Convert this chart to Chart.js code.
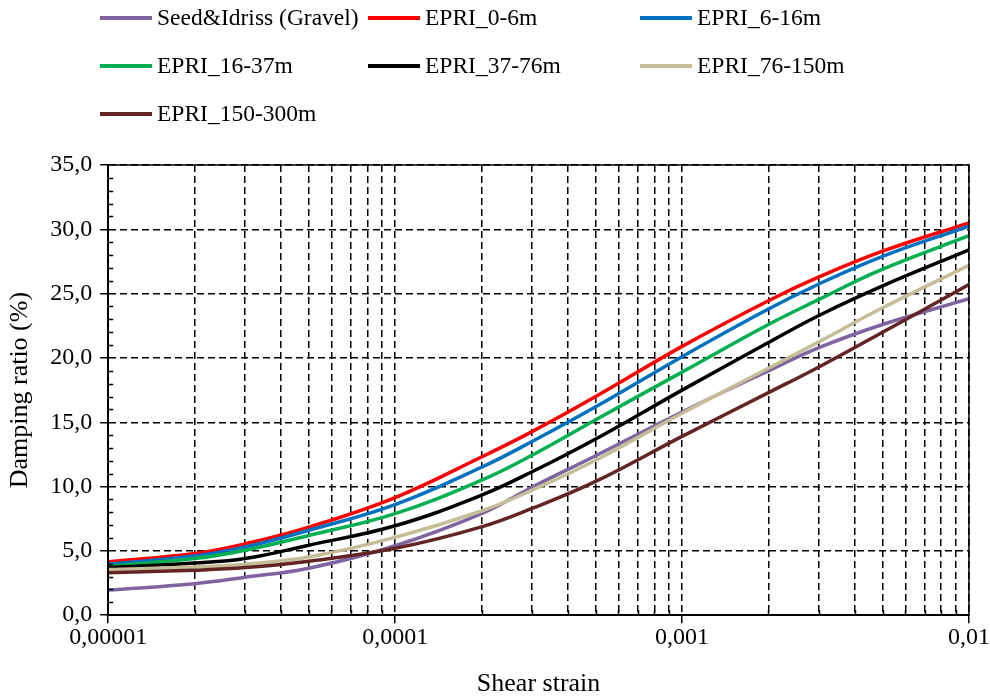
<!DOCTYPE html>
<html>
<head>
<meta charset="utf-8">
<script src="https://cdn.jsdelivr.net/npm/chart.js@4.4.0/dist/chart.umd.min.js"></script>
<style>
  html, body { margin: 0; padding: 0; background: #fff; }
  #wrap { width: 990px; height: 697px; }
</style>
</head>
<body>
<div id="wrap"><canvas id="damping-chart"></canvas></div>
<script>
// Shear strain (log axis) and damping ratio (%) per curve
const strain = [1e-5, 2e-5, 3e-5, 5e-5, 1e-4, 2e-4, 3e-4, 5e-4, 1e-3, 2e-3, 3e-3, 5e-3, 1e-2];

const seedIdriss  = [1.95, 2.45, 2.95, 3.65, 5.4, 7.9, 9.95, 12.4, 15.8, 19.0, 20.8, 22.6, 24.6];
const epri0_6     = [4.15, 4.8, 5.55, 6.85, 9.15, 12.3, 14.27, 17.0, 20.9, 24.45, 26.3, 28.3, 30.5];
const epri6_16    = [3.97, 4.6, 5.3, 6.6, 8.6, 11.5, 13.5, 16.2, 20.1, 23.8, 25.75, 27.9, 30.25];
const epri16_37   = [3.8, 4.4, 5.05, 6.2, 7.9, 10.5, 12.44, 15.2, 18.9, 22.6, 24.55, 26.9, 29.5];
const epri37_76   = [3.7, 4.05, 4.4, 5.44, 6.95, 9.33, 11.15, 13.7, 17.5, 21.2, 23.3, 25.6, 28.4];
const epri76_150  = [3.55, 3.75, 3.97, 4.53, 6.05, 8.1, 9.72, 12.05, 15.7, 19.2, 21.26, 23.9, 27.2];
const epri150_300 = [3.3, 3.5, 3.7, 4.2, 5.2, 6.87, 8.3, 10.4, 13.9, 17.3, 19.3, 22.0, 25.7];

const seriesNames  = ['Seed&Idriss (Gravel)', 'EPRI_0-6m', 'EPRI_6-16m', 'EPRI_16-37m', 'EPRI_37-76m', 'EPRI_76-150m', 'EPRI_150-300m'];
const seriesValues = [seedIdriss, epri0_6, epri6_16, epri16_37, epri37_76, epri76_150, epri150_300];
const seriesColors = ['#8064A2', '#FF0000', '#0070C0', '#00B050', '#000000', '#C4BD97', '#632523'];

const decades      = [1e-5, 1e-4, 1e-3, 1e-2];
const decadeLabels = ['0,00001', '0,0001', '0,001', '0,01'];
const yMin = 0, yMax = 35, yStep = 5;

const FONT = '"Liberation Serif", "Times New Roman", serif';

function isDecade(v) {
  const l = Math.log10(v);
  return Math.abs(l - Math.round(l)) < 1e-6;
}

// legend laid out in three columns above the plot
const gridLegend = {
  id: 'gridLegend',
  afterDraw(chart) {
    const ctx = chart.ctx;
    const colX = [100, 368, 640];
    const rowY = [18, 66, 114];
    ctx.save();
    ctx.font = '23.5px ' + FONT;
    ctx.textBaseline = 'middle';
    chart.data.datasets.forEach((ds, i) => {
      const x = colX[i % 3];
      const y = rowY[Math.floor(i / 3)];
      ctx.strokeStyle = ds.borderColor;
      ctx.lineWidth = 4;
      ctx.beginPath();
      ctx.moveTo(x, y);
      ctx.lineTo(x + 52, y);
      ctx.stroke();
      ctx.fillStyle = '#000';
      ctx.fillText(ds.label, x + 57, y + 1);
    });
    ctx.restore();
  }
};

// box around the plot and the small inside ticks
const plotFrame = {
  id: 'plotFrame',
  afterDraw(chart) {
    const { ctx, chartArea: a, scales } = chart;
    ctx.save();
    ctx.strokeStyle = '#000';
    ctx.lineWidth = 1.5;
    ctx.strokeRect(a.left, a.top, a.right - a.left, a.bottom - a.top);
    ctx.beginPath();
    for (let v = yMin + 1; v < yMax; v++) {
      if (v % yStep === 0) continue;
      const py = Math.round(scales.y.getPixelForValue(v)) + 0.5;
      ctx.moveTo(a.left, py);
      ctx.lineTo(a.left + 5, py);
    }
    scales.x.ticks.forEach(t => {
      if (isDecade(t.value)) return;
      const px = Math.round(scales.x.getPixelForValue(t.value)) + 0.5;
      ctx.moveTo(px, a.bottom);
      ctx.lineTo(px, a.bottom - 5);
    });
    ctx.stroke();
    ctx.restore();
  }
};

new Chart(document.getElementById('damping-chart'), {
  type: 'line',
  data: {
    datasets: seriesNames.map((name, i) => ({
      label: name,
      data: strain.map((x, j) => ({ x: x, y: seriesValues[i][j] })),
      borderColor: seriesColors[i],
      backgroundColor: seriesColors[i],
      borderWidth: 3.5,
      pointRadius: 0,
      fill: false,
      tension: 0.4,
      order: seriesNames.length - i
    }))
  },
  options: {
    responsive: true,
    maintainAspectRatio: false,
    animation: false,
    layout: { padding: { top: 165, right: 18, left: 5, bottom: 0 } },
    plugins: {
      legend: { display: false },
      tooltip: { enabled: false }
    },
    scales: {
      x: {
        type: 'logarithmic',
        min: decades[0],
        max: decades[decades.length - 1],
        afterBuildTicks(scale) {
          const ticks = [];
          for (let d = 0; d < decades.length - 1; d++) {
            for (let m = 1; m <= 9; m++) ticks.push({ value: m * decades[d] });
          }
          ticks.push({ value: decades[decades.length - 1] });
          scale.ticks = ticks;
        },
        ticks: {
          autoSkip: false,
          maxRotation: 0,
          padding: 0,
          color: '#000',
          font: { family: FONT, size: 24 },
          callback(v) {
            if (!isDecade(v)) return '';
            const k = decades.findIndex(d => Math.abs(Math.log10(d) - Math.log10(v)) < 1e-6);
            return decadeLabels[k];
          }
        },
        grid: {
          color: '#000',
          lineWidth: 1.5,
          tickLength: 8,
          tickWidth: 1.5,
          tickColor: ctx => (ctx.tick && isDecade(ctx.tick.value)) ? '#000' : 'rgba(0,0,0,0)'
        },
        border: { display: true, color: '#000', width: 2, dash: [7, 4] },
        title: {
          display: true,
          text: 'Shear strain',
          color: '#000',
          font: { family: FONT, size: 26, lineHeight: 1 },
          padding: { top: 19, bottom: 0 }
        }
      },
      y: {
        min: yMin,
        max: yMax,
        ticks: {
          stepSize: yStep,
          padding: 8,
          color: '#000',
          font: { family: FONT, size: 24 },
          callback: v => v.toFixed(1).replace('.', ',')
        },
        grid: {
          color: '#000',
          lineWidth: 1.5,
          tickLength: 8,
          tickWidth: 1.5,
          tickColor: '#000'
        },
        border: { display: true, color: '#000', width: 2, dash: [7, 4] },
        title: {
          display: true,
          text: 'Damping ratio (%)',
          color: '#000',
          font: { family: FONT, size: 26 },
          padding: { top: 0, bottom: 6 }
        }
      }
    }
  },
  plugins: [gridLegend, plotFrame]
});
</script>
</body>
</html>
